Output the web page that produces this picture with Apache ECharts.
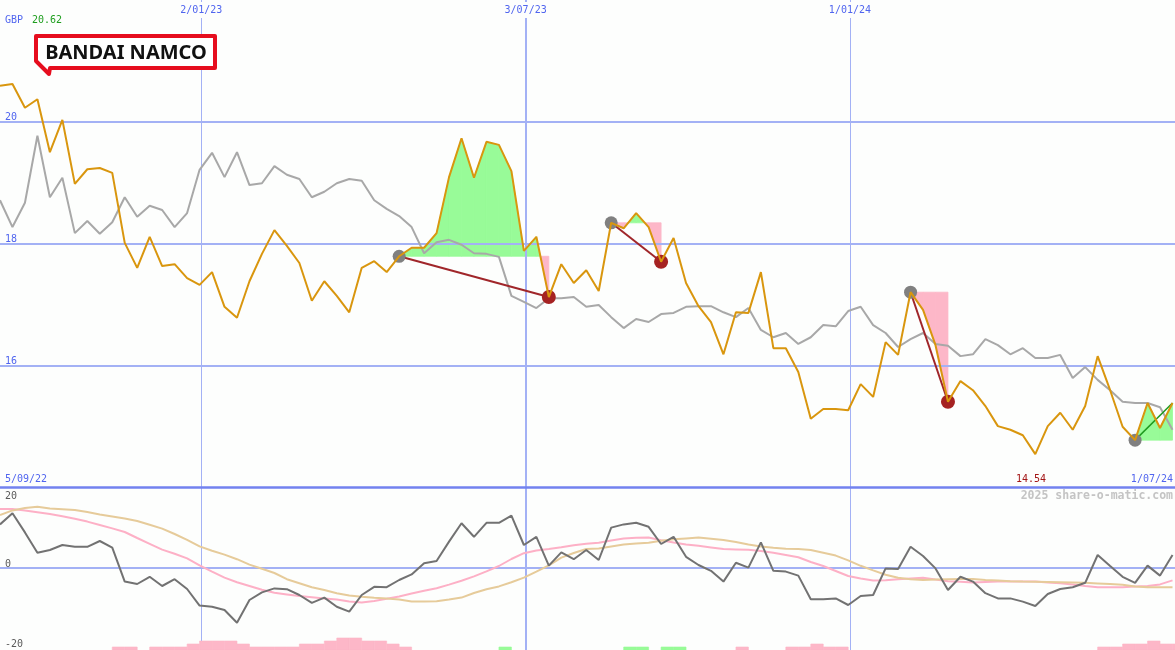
<!DOCTYPE html>
<html><head><meta charset="utf-8">
<script src="https://cdn.jsdelivr.net/npm/echarts@6/dist/echarts.min.js"></script>
<style>html,body{margin:0;padding:0;background:#fdfefd}#c{width:1175px;height:650px}</style>
</head><body><div id="c"></div>
<script>
// ---- data (weekly points, index 0 = first week) ----
const price = [20.59, 20.62, 20.23, 20.37, 19.50, 20.03, 18.98, 19.22, 19.24, 19.16,
 18.01, 17.60, 18.11, 17.63, 17.66, 17.43, 17.32, 17.53, 16.96, 16.78,
 17.38, 17.83, 18.22, 17.96, 17.68, 17.06, 17.38, 17.14, 16.87, 17.60,
 17.71, 17.53, 17.79, 17.93, 17.93, 18.17, 19.09, 19.73, 19.08, 19.67,
 19.62, 19.19, 17.88, 18.11, 17.12, 17.66, 17.35, 17.56, 17.22, 18.34,
 18.25, 18.50, 18.27, 17.70, 18.09, 17.35, 16.97, 16.71, 16.18, 16.87,
 16.86, 17.53, 16.28, 16.28, 15.89, 15.12, 15.28, 15.28, 15.26, 15.69,
 15.48, 16.38, 16.17, 17.20, 16.91, 16.33, 15.40, 15.74, 15.59, 15.33,
 15.00, 14.94, 14.85, 14.54, 15.00, 15.22, 14.94, 15.33, 16.15, 15.59,
 14.99, 14.77, 15.38, 14.97, 15.38];
const relative = [18.71, 18.27, 18.67, 19.77, 18.76, 19.08, 18.17, 18.37, 18.16, 18.35,
 18.76, 18.44, 18.62, 18.55, 18.27, 18.50, 19.21, 19.49, 19.09, 19.50,
 18.96, 18.99, 19.27, 19.13, 19.06, 18.76, 18.85, 18.99, 19.06, 19.03,
 18.71, 18.57, 18.45, 18.27, 17.84, 18.02, 18.06, 17.98, 17.84, 17.83,
 17.78, 17.14, 17.04, 16.94, 17.10, 17.10, 17.12, 16.96, 16.99, 16.79,
 16.61, 16.76, 16.71, 16.84, 16.86, 16.96, 16.97, 16.97, 16.87, 16.79,
 16.94, 16.58, 16.46, 16.53, 16.35, 16.46, 16.66, 16.64, 16.89, 16.96,
 16.66, 16.53, 16.30, 16.43, 16.53, 16.35, 16.32, 16.15, 16.18, 16.43,
 16.33, 16.18, 16.28, 16.12, 16.12, 16.17, 15.79, 15.97, 15.76, 15.59,
 15.40, 15.38, 15.38, 15.31, 14.94];
const momentum = [10.9, 13.7, 8.9, 3.8, 4.5, 5.75, 5.3, 5.3, 6.75, 5.1,
 -3.4, -4.0, -2.2, -4.5, -2.8, -5.25, -9.4, -9.7, -10.5, -13.7,
 -8.0, -6.1, -5.1, -5.3, -6.75, -8.7, -7.4, -9.7, -10.9, -6.75,
 -4.7, -4.8, -3.0, -1.6, 1.2, 1.75, 6.6, 11.2, 7.8, 11.3,
 11.3, 13.1, 5.75, 7.8, 0.6, 3.9, 2.2, 4.5, 2.0, 10.1,
 10.9, 11.3, 10.3, 6.0, 7.8, 2.8, 0.75, -0.7, -3.4, 1.3,
 0.1, 6.4, -0.7, -0.9, -1.9, -7.8, -7.8, -7.6, -9.25, -7.0,
 -6.75, -0.1, -0.25, 5.3, 3.0, -0.1, -5.5, -2.2, -3.4, -6.3,
 -7.6, -7.6, -8.4, -9.5, -6.5, -5.25, -4.8, -3.7, 3.25, 0.5,
 -2.2, -3.7, 0.6, -1.9, 3.25];
const maFast = [14.75, 14.75, 14.4, 13.95, 13.5, 12.95, 12.3, 11.6, 10.75, 9.9,
 9.0, 7.5, 6.05, 4.6, 3.55, 2.4, 0.65, -0.9, -2.4, -3.55,
 -4.5, -5.45, -6.2, -6.6, -7.0, -7.3, -7.6, -7.9, -8.35, -8.6,
 -8.25, -7.7, -7.1, -6.4, -5.7, -5.05, -4.15, -3.2, -2.1, -0.85,
 0.5, 2.25, 3.7, 4.35, 4.75, 5.2, 5.7, 6.05, 6.3, 6.9,
 7.35, 7.55, 7.6, 6.95, 6.4, 5.9, 5.55, 5.15, 4.75, 4.65,
 4.55, 4.25, 3.8, 3.25, 2.7, 1.5, 0.5, -0.75, -2.0, -2.6,
 -3.1, -3.05, -2.8, -2.6, -2.45, -2.9, -3.3, -3.45, -3.6, -3.5,
 -3.4, -3.4, -3.4, -3.4, -3.6, -3.8, -4.1, -4.5, -4.8, -4.8,
 -4.8, -4.65, -4.5, -4.1, -3.1];
const maSlow = [13.25, 14.4, 15.0, 15.3, 14.9, 14.7, 14.5, 14.0, 13.4, 12.9,
 12.4, 11.75, 10.8, 9.85, 8.5, 7.05, 5.4, 4.3, 3.35, 2.2,
 0.85, -0.2, -1.25, -2.8, -3.8, -4.8, -5.5, -6.3, -6.9, -7.2,
 -7.45, -7.6, -7.9, -8.4, -8.4, -8.3, -7.9, -7.4, -6.25, -5.3,
 -4.6, -3.55, -2.4, -0.9, 0.65, 2.6, 3.75, 4.75, 4.9, 5.4,
 5.85, 6.1, 6.3, 6.8, 7.2, 7.4, 7.6, 7.3, 7.0, 6.5,
 5.9, 5.4, 5.05, 4.8, 4.75, 4.5, 3.8, 3.1, 1.9, 0.55,
 -0.6, -1.7, -2.45, -2.8, -3.0, -2.9, -2.8, -2.75, -2.75, -3.0,
 -3.15, -3.3, -3.4, -3.45, -3.5, -3.55, -3.6, -3.7, -3.85, -4.0,
 -4.2, -4.65, -4.8, -4.8, -4.8];
const histogram = [0,0,0,0,0,0,0,0,0,-1,
 -1,0,-1,-1,-1,-2,-3,-3,-3,-2,
 -1,-1,-1,-1,-2,-2,-3,-4,-4,-3,
 -3,-2,-1,0,0,0,0,0,0,0,
 1,0,0,0,0,0,0,0,0,0,
 1,1,0,1,1,0,0,0,0,-1,
 0,0,0,-1,-1,-2,-1,-1,0,0,
 0,0,0,0,0,0,0,0,0,0,
 0,0,0,0,0,0,0,0,-1,-1,
 -2,-2,-3,-2,-2];
const dateTickPos = [16.14, 42.14, 68.14];
const dateTickLabels = ['2/01/23', '3/07/23', '1/01/24'];
const dateTickWidth = [1, 2, 1];
const startLabel = '5/09/22';
const endLabel = '1/07/24';
const signalFrom = [32, 49, 73, 91];
const signalTo = [44, 53, 76, 94];
const signalDone = [true, true, true, false];

// ---- styling ----
const BLUE = '#5065ef', GRID = '#a3b1f5', MONO = '"DejaVu Sans Mono", monospace';
const UP = '#98fb98', DOWN = '#fdb7c8';
const XMAX = 94.2;

const pts = arr => arr.map((v, i) => [i, v]);
const series = [];

// fill segments between price and each signal's base level
const fillData = [];
signalFrom.forEach((f, s) => {
  const base = price[f];
  for (let i = f; i < signalTo[s]; i++) fillData.push([i, price[i], price[i + 1], base]);
});

series.push({
  type: 'line', xAxisIndex: 0, yAxisIndex: 0, data: pts(relative), z: 2,
  showSymbol: false, symbol: 'none', silent: true,
  lineStyle: { color: '#a8a8a8', width: 2 },
  markLine: {
    silent: true, symbol: ['none', 'none'], z: 0, animation: false,
    label: { show: false },
    data: dateTickPos.map((p, k) => ({ xAxis: p, lineStyle: { color: GRID, width: dateTickWidth[k], type: 'solid' } }))
  }
});

series.push({
  type: 'custom', xAxisIndex: 0, yAxisIndex: 0, data: fillData, z: -1, silent: true,
  renderItem: function (params, api) {
    const i = api.value(0), a = api.value(1), b = api.value(2), base = api.value(3);
    const pa = api.coord([i, a]), pb = api.coord([i + 1, b]);
    const qa = api.coord([i, base]), qb = api.coord([i + 1, base]);
    const poly = (points, up) => ({ type: 'polygon', shape: { points: points },
      style: { fill: up ? UP : DOWN, stroke: up ? UP : DOWN, lineWidth: 0.8 } });
    const aUp = a >= base, bUp = b >= base;
    let children;
    if (aUp === bUp) {
      children = [poly([pa, pb, qb, qa], aUp)];
    } else {
      const t = (base - a) / (b - a);
      const c = api.coord([i + t, base]);
      children = [poly([pa, c, qa], aUp), poly([c, pb, qb], bUp)];
    }
    return { type: 'group', children: children };
  }
});

signalFrom.forEach((f, s) => {
  const t = signalTo[s];
  series.push({
    type: 'line', xAxisIndex: 0, yAxisIndex: 0, z: 3, silent: true,
    data: [[f, price[f]], [t, price[t]]], showSymbol: false, symbol: 'none',
    lineStyle: { color: signalDone[s] ? '#a0262a' : '#1f9a1f', width: signalDone[s] ? 2 : 1.5 }
  });
});

series.push({
  type: 'scatter', xAxisIndex: 0, yAxisIndex: 0, z: 4, silent: true,
  symbolSize: 13, itemStyle: { color: '#808080', opacity: 1 },
  data: signalFrom.map(f => [f, price[f]])
});
series.push({
  type: 'scatter', xAxisIndex: 0, yAxisIndex: 0, z: 4, silent: true,
  symbolSize: 14, itemStyle: { color: '#a52222', opacity: 1 },
  data: signalTo.filter((t, s) => signalDone[s]).map(t => [t, price[t]])
});

series.push({
  type: 'line', xAxisIndex: 0, yAxisIndex: 0, data: pts(price), z: 5, silent: true,
  showSymbol: false, symbol: 'none',
  lineStyle: { color: '#d9960e', width: 2 }
});

// lower panel
series.push({
  type: 'line', xAxisIndex: 2, yAxisIndex: 1, data: pts(maFast), z: 2, silent: true,
  showSymbol: false, symbol: 'none', lineStyle: { color: '#fdb0c6', width: 2 },
  markLine: {
    silent: true, symbol: ['none', 'none'], z: 0, animation: false,
    label: { show: false },
    data: dateTickPos.map((p, k) => ({ xAxis: p, lineStyle: { color: GRID, width: dateTickWidth[k], type: 'solid' } }))
      .concat([{ yAxis: 0, lineStyle: { color: GRID, width: 2, type: 'solid' } }])
  }
});
series.push({
  type: 'line', xAxisIndex: 2, yAxisIndex: 1, data: pts(maSlow), z: 2, silent: true,
  showSymbol: false, symbol: 'none', lineStyle: { color: '#e6cb9a', width: 2 }
});
series.push({
  type: 'line', xAxisIndex: 2, yAxisIndex: 1, data: pts(momentum), z: 3, silent: true,
  showSymbol: false, symbol: 'none', lineStyle: { color: '#727272', width: 2 }
});
series.push({
  type: 'custom', xAxisIndex: 3, yAxisIndex: 3, data: pts(histogram), z: 2, silent: true,
  renderItem: function (params, api) {
    const k = api.value(0), v = api.value(1);
    if (!v) return null;
    const p0 = api.coord([k, 0]);
    const p1 = api.coord([k + 1, Math.abs(v)]);
    return { type: 'rect', shape: { x: p0[0], y: p1[1], width: p1[0] - p0[0], height: p0[1] - p1[1] },
      style: { fill: v < 0 ? DOWN : UP, stroke: v < 0 ? DOWN : UP, lineWidth: 0.6 } };
  }
});

const hi = Math.max(...price).toFixed(2);
const lo = Math.min(...price).toFixed(2);

const txt = (x, y, text, fill, extra) => ({
  type: 'text', x: x, y: y, z: 100, silent: true,
  style: Object.assign({ text: text, fill: fill, font: '10px ' + MONO, verticalAlign: 'middle' }, extra || {})
});

const option = {
  backgroundColor: '#fdfefd',
  animation: false,
  grid: [
    { left: 0, right: 0, top: 0, height: 487, outerBoundsMode: 'none' },
    { left: 0, right: 0, top: 488, height: 162, outerBoundsMode: 'none' },
    { left: 0, right: 0, top: 626, height: 24, outerBoundsMode: 'none' }
  ],
  xAxis: [
    { type: 'value', gridIndex: 0, min: 0, max: XMAX, position: 'bottom',
      axisLine: { show: true, onZero: false, lineStyle: { color: '#7282ef', width: 2.5 } },
      axisTick: { show: false }, axisLabel: { show: false }, splitLine: { show: false } },
    { type: 'value', gridIndex: 0, min: 0, max: XMAX, position: 'top', z: 10,
      axisLine: { show: false }, axisTick: { show: false }, splitLine: { show: false },
      axisLabel: { inside: true, margin: 2, customValues: dateTickPos,
        formatter: v => { const k = dateTickPos.findIndex(p => Math.abs(p - v) < 1e-6); return k >= 0 ? dateTickLabels[k] : ''; },
        color: BLUE, fontSize: 10, fontFamily: MONO, backgroundColor: '#fdfefd', padding: [3, 2, 3, 2] } },
    { type: 'value', gridIndex: 1, min: 0, max: XMAX, show: false },
    { type: 'value', gridIndex: 2, min: 0, max: XMAX, show: false }
  ],
  yAxis: [
    { type: 'value', gridIndex: 0, min: 14, max: 22, interval: 2,
      axisLine: { show: false }, axisTick: { show: false },
      splitLine: { show: true, showMinLine: false, showMaxLine: false, lineStyle: { color: GRID, width: 2 } },
      axisLabel: { inside: true, margin: 5, verticalAlign: 'bottom', showMinLabel: false, showMaxLabel: false,
        color: BLUE, fontSize: 10, lineHeight: 8, fontFamily: MONO, padding: 0 } },
    { type: 'value', gridIndex: 1, min: -20.5, max: 20, position: 'left',
      axisLine: { show: false }, axisTick: { show: false }, splitLine: { show: false },
      axisLabel: { inside: true, margin: 5, verticalAlign: 'bottom', customValues: [0, -20],
        color: '#5a5a5a', fontSize: 10, lineHeight: 8, fontFamily: MONO, padding: 0 } },
    { type: 'value', gridIndex: 1, min: -20.5, max: 20, position: 'left', offset: 0,
      axisLine: { show: false }, axisTick: { show: false }, splitLine: { show: false },
      axisLabel: { inside: true, margin: 5, verticalAlign: 'top', customValues: [20],
        color: '#5a5a5a', fontSize: 10, fontFamily: MONO, padding: [3, 0, 0, 0] } },
    { type: 'value', gridIndex: 2, min: 0, max: 8, show: false }
  ],
  series: series,
  graphic: [
    txt(5, 20, 'GBP', BLUE),
    txt(32, 20, hi, '#1e9e1e'),
    txt(5, 479, startLabel, BLUE),
    txt(1046, 479, lo, '#a31515', { align: 'right' }),
    txt(1173, 479, endLabel, BLUE, { align: 'right' }),
    txt(1173, 496, '2025 share-o-matic.com', '#c4c4c4', { align: 'right', font: 'bold 11.5px ' + MONO }),
    { type: 'polygon', z: 100, silent: true,
      shape: { points: [[36, 36], [215, 36], [215, 68], [50, 68], [49, 74], [36, 61]] },
      style: { fill: '#ffffff', stroke: '#e60d1e', lineWidth: 4, lineJoin: 'round' } },
    { type: 'text', x: 126, y: 53, z: 101, silent: true,
      style: { text: 'BANDAI NAMCO', fill: '#111111', font: 'bold 20px "Noto Sans"', align: 'center', verticalAlign: 'middle' } }
  ]
};

const chart = echarts.init(document.getElementById('c'), null, { renderer: 'canvas' });
chart.setOption(option);
</script>
</body></html>
